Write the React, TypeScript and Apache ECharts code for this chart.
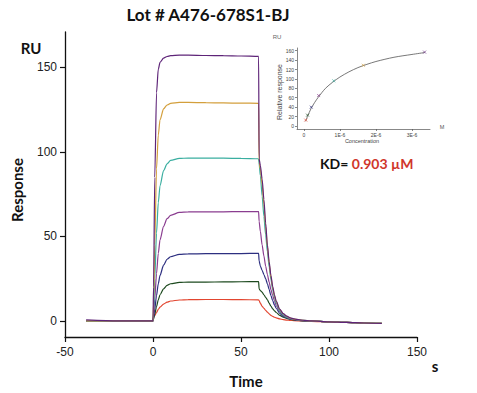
import React, { useEffect, useRef } from "react";
import * as echarts from "echarts";

// Sensorgram time points (s)
const times = [-38, -20, 0, 0.3, 1, 2, 3, 4, 6, 8, 10, 15, 20, 30, 40, 50, 60, 60.3, 61, 62, 63, 64, 65, 66, 67, 68, 69, 70, 72, 74, 76, 78, 80, 85, 90, 100, 110, 120, 130];

// Response (RU) for each concentration
const curveTop = [0.6, 0, 0, 20, 85, 135, 149, 153, 155.5, 156.5, 157, 157.3, 157.3, 157.1, 157, 156.8, 156.6, 96, 92, 84, 72, 58, 45, 35, 27, 20.5, 15.5, 11.8, 7, 4.3, 2.8, 1.8, 1.2, 0.4, 0, -0.5, -0.9, -1.2, -1.5];
const curveOrange = [0, 0, 0, 10, 45, 90, 110, 119, 125.5, 127.8, 128.8, 129.3, 129.3, 129.2, 129, 128.9, 128.8, 94, 90, 81, 69, 56, 44, 34, 26, 19.8, 15, 11.4, 6.7, 4.1, 2.7, 1.7, 1.1, 0.4, 0, -0.5, -0.9, -1.2, -1.4];
const curveTeal = [0, 0, 0, 5, 25, 52, 70, 80, 89, 93, 95, 96.2, 96.4, 96.4, 96.3, 96.2, 96, 93, 86, 74, 62, 51, 41, 32, 24.5, 18.5, 14, 10.5, 6, 3.6, 2.3, 1.5, 1, 0.3, 0, -0.5, -0.9, -1.2, -1.4];
const curvePurple = [0, 0, 0, 3, 13, 28, 40, 48, 56, 60.5, 62.5, 64.2, 64.5, 64.6, 64.6, 64.7, 64.7, 59, 53, 45, 38.5, 32.5, 27.5, 23, 18.5, 15, 12, 9, 5.5, 3.3, 2.1, 1.4, 0.9, 0.3, 0, -0.5, -0.9, -1.2, -1.4];
const curveNavy = [0, 0, 0, 1.5, 7, 15, 22, 27, 33, 36.5, 38, 39.4, 39.7, 39.8, 39.8, 39.9, 40, 35.5, 32.5, 30, 27.5, 25, 22, 18.5, 15, 12, 9.5, 7.5, 4.5, 2.8, 1.8, 1.2, 0.8, 0.2, -0.1, -0.5, -0.9, -1.2, -1.4];
const curveGreen = [0, 0, 0, 1, 4, 8.5, 12.5, 15.5, 19, 21, 22, 22.8, 23, 23, 23.1, 23.2, 23.3, 19, 18, 17, 15.5, 14, 12.5, 10.5, 8.8, 7.2, 6, 5, 3.3, 2.2, 1.5, 1, 0.6, 0.1, -0.1, -0.5, -0.9, -1.2, -1.4];
const curveRed = [0, 0, 0, 2.5, 3.2, 5, 6.8, 8.2, 10, 11.1, 11.8, 12.4, 12.6, 12.7, 12.7, 12.6, 12.5, 12, 10.5, 8.7, 7.5, 6.3, 5.2, 4.2, 3.3, 2.7, 2.2, 1.8, 1.2, 0.8, 0.5, 0.3, 0.2, 0, -0.2, -0.5, -0.9, -1.2, -1.4];

const curveColors = ["#e2452f", "#1d4a1f", "#2d2f80", "#8a3d90", "#3aaea0", "#d39f3c", "#5e2478"];
const curves = [curveRed, curveGreen, curveNavy, curvePurple, curveTeal, curveOrange, curveTop];

// Inset: steady-state fit (concentration in 1E-6 M)
const fitConc = [0.05, 0.1, 0.2, 0.3, 0.4, 0.6, 0.8, 1.0, 1.25, 1.5, 1.75, 2.0, 2.5, 3.0, 3.35];
const fitResp = [10, 20, 37, 50, 61, 80, 93, 104, 115, 124, 131, 137, 146, 152, 156];
const pointConc = [0.052, 0.103, 0.206, 0.41, 0.83, 1.65, 3.35];
const pointResp = [12.5, 23, 40, 64.7, 96, 129, 157];

const mainTicksY = [0, 50, 100, 150];
const insetTicksY = [0, 20, 40, 60, 80, 100, 120, 140, 160];
const insetTicksX = [0, 1, 2, 3];

export default function App() {
  const ref = useRef<HTMLDivElement>(null);
  useEffect(() => {
    if (!ref.current) return;
    const chart = echarts.init(ref.current, null, { renderer: "svg" });
    const axisFont = "Liberation Sans";
    const series: any[] = curves.map((c, i) => ({
      type: "line",
      xAxisIndex: 0,
      yAxisIndex: 0,
      data: times.map((t, j) => [t, c[j]]),
      symbol: "none",
      smooth: 0.25,
      smoothMonotone: "x",
      lineStyle: { color: curveColors[i], width: 1.2 },
      z: 2 + i,
    }));
    series.push({
      type: "line",
      xAxisIndex: 1,
      yAxisIndex: 1,
      data: fitConc.map((c, j) => [c, fitResp[j]]),
      symbol: "none",
      smooth: 0.3,
      lineStyle: { color: "#555", width: 0.8 },
    });
    series.push({
      type: "scatter",
      xAxisIndex: 1,
      yAxisIndex: 1,
      data: pointConc.map((c, j) => ({
        value: [c, pointResp[j]],
        itemStyle: { color: curveColors[j], borderColor: curveColors[j], borderWidth: 0.8 },
      })),
      symbol: "path://M0,0L10,10M10,0L0,10",
      symbolSize: 3,
      z: 5,
    });

    chart.setOption({
      animation: false,
      grid: [
        { left: 65, top: 32, width: 352, height: 305 },
        { left: 297, top: 48, width: 133, height: 81 },
      ],
      xAxis: [
        {
          type: "value",
          gridIndex: 0,
          min: -50,
          max: 150,
          interval: 50,
          splitLine: { show: false },
          axisLine: { onZero: false, lineStyle: { color: "#111", width: 1.3 } },
          axisTick: { length: 5, lineStyle: { color: "#111", width: 1.2 } },
          axisLabel: { color: "#222", fontSize: 12, fontFamily: axisFont, margin: 9 },
        },
        {
          type: "value",
          gridIndex: 1,
          min: -0.19,
          max: 3.5,
          splitLine: { show: false },
          axisLine: { onZero: false, lineStyle: { color: "#555", width: 0.7 } },
          axisTick: { length: 2, customValues: insetTicksX, lineStyle: { color: "#555", width: 0.7 } },
          axisLabel: {
            customValues: insetTicksX,
            color: "#444",
            fontSize: 5,
            fontFamily: axisFont,
            margin: 3,
            formatter: (v: number) => (v === 0 ? "0" : v + "E-6"),
          },
        },
      ],
      yAxis: [
        {
          type: "value",
          gridIndex: 0,
          min: -9.5,
          max: 171,
          splitLine: { show: false },
          axisLine: { show: true, onZero: false, lineStyle: { color: "#111", width: 1.3 } },
          axisTick: { show: true, length: 5, customValues: mainTicksY, lineStyle: { color: "#111", width: 1.2 } },
          axisLabel: { customValues: mainTicksY, color: "#222", fontSize: 12, fontFamily: axisFont, margin: 8 },
        },
        {
          type: "value",
          gridIndex: 1,
          min: -6.4,
          max: 165.7,
          splitLine: { show: false },
          axisLine: { show: true, onZero: false, lineStyle: { color: "#555", width: 0.7 } },
          axisTick: { show: true, length: 2, customValues: insetTicksY, lineStyle: { color: "#555", width: 0.7 } },
          axisLabel: { customValues: insetTicksY, color: "#444", fontSize: 5, fontFamily: axisFont, margin: 3 },
        },
      ],
      series,
      graphic: [
        {
          type: "text",
          x: 208,
          y: 14,
          style: { text: "Lot # A476-678S1-BJ", font: "bold 17px Lato", fill: "#111", align: "center", verticalAlign: "middle" },
        },
        {
          type: "text",
          x: 31,
          y: 48,
          style: { text: "RU", font: "bold 15px Lato", fill: "#111", align: "center", verticalAlign: "middle" },
        },
        {
          type: "text",
          x: 17,
          y: 190,
          rotation: Math.PI / 2,
          style: { text: "Response", font: "bold 15px Lato", fill: "#111", align: "center", verticalAlign: "middle" },
        },
        {
          type: "text",
          x: 246,
          y: 381,
          style: { text: "Time", font: "bold 15px Lato", fill: "#111", align: "center", verticalAlign: "middle" },
        },
        {
          type: "text",
          x: 435,
          y: 366,
          style: { text: "s", font: "bold 15px Lato", fill: "#111", align: "center", verticalAlign: "middle" },
        },
        {
          type: "text",
          x: 320,
          y: 163,
          style: {
            text: "{a|KD= }{b|0.903 µM}",
            verticalAlign: "middle",
            rich: {
              a: { font: "bold 14px Lato", fill: "#111" },
              b: { font: "bold 14px Lato", fill: "#d0362b" },
            },
          },
        },
        {
          type: "text",
          x: 277,
          y: 37,
          style: { text: "RU", font: "6px Liberation Sans", fill: "#666", align: "center", verticalAlign: "middle" },
        },
        {
          type: "text",
          x: 279,
          y: 92,
          rotation: Math.PI / 2,
          style: { text: "Relative response", font: "7px Liberation Sans", fill: "#444", align: "center", verticalAlign: "middle" },
        },
        {
          type: "text",
          x: 362,
          y: 141,
          style: { text: "Concentration", font: "5.5px Liberation Sans", fill: "#444", align: "center", verticalAlign: "middle" },
        },
        {
          type: "text",
          x: 442,
          y: 127,
          style: { text: "M", font: "5.5px Liberation Sans", fill: "#555", align: "center", verticalAlign: "middle" },
        },
      ],
    });
    return () => chart.dispose();
  }, []);
  return <div ref={ref} style={{ width: 477, height: 393, position: "absolute", left: 0, top: 0 }} />;
}
